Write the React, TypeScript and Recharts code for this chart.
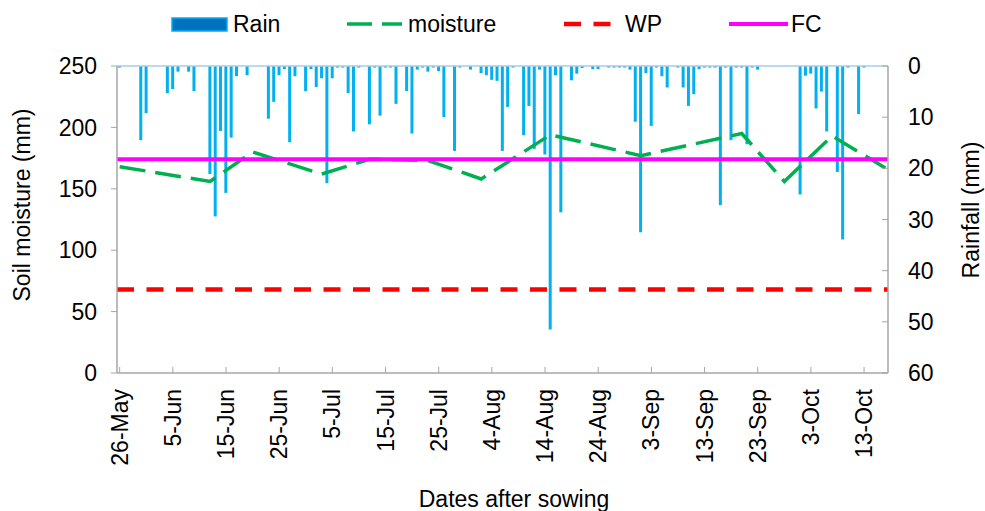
import React from 'react';
import { ComposedChart, Bar, Line, XAxis, YAxis, ReferenceLine, Legend, Label } from 'recharts';

const FONT = '"Liberation Sans", Arial, sans-serif';
const AXIS_GREY = '#a6a6a6';
const RAIN_COLOR = '#00B0F0';
const MOISTURE_COLOR = '#00B050';
const WP_COLOR = '#FF0000';
const FC_COLOR = '#FF00FF';

const MONTHS = ['Jan', 'Feb', 'Mar', 'Apr', 'May', 'Jun', 'Jul', 'Aug', 'Sep', 'Oct', 'Nov', 'Dec'];

// one category per day, 26-May .. 17-Oct
const dates: string[] = Array.from({ length: 145 }, (_, i) => {
  const d = new Date(2013, 4, 26 + i);
  return `${d.getDate()}-${MONTHS[d.getMonth()]}`;
});

// daily rainfall (mm)
const rain = [
  0.3, 0, 0, 0, 14.5, 9.2, 0, 0, 0, 5.3,
  4.5, 1.1, 0, 1.1, 4.9, 0, 0, 21.1, 29.4, 12.7,
  24.8, 14, 2, 0, 1.8, 0, 0, 0, 10.3, 7,
  1.8, 0.6, 14.9, 2, 0, 4.9, 0.6, 4.1, 2.4, 22.9,
  2.4, 0.3, 0.3, 5.3, 12.8, 0.3, 0, 11.4, 0.3, 9.7,
  0.3, 0.3, 7.4, 0, 4.9, 13.2, 0.7, 0.3, 1.1, 0.3,
  1, 10, 0, 16.6, 0.3, 0, 0.7, 0, 1.4, 1.8,
  2.7, 2.9, 16.6, 8, 0.3, 0, 13.5, 7.8, 16.2, 0.7,
  17.3, 51.5, 1.8, 28.6, 0, 2.8, 1.5, 0.4, 0, 0.6,
  0.6, 0, 0.3, 0.3, 0.3, 0.3, 0.7, 10.9, 32.5, 1.4,
  11.7, 0.3, 2, 4.2, 0, 0.3, 4.2, 7.8, 5.5, 0.6,
  0.3, 0.3, 0.3, 27.2, 0.3, 14.5, 0.3, 0.3, 15.3, 0.3,
  0.7, 0, 0, 0, 0, 0, 0, 0, 25.1, 1.9,
  1.5, 8.3, 5, 12.8, 0, 20.7, 33.9, 0.3, 0, 9.4,
  0.3, 0, 0, 0, 0,
];

// soil moisture measurements (day index -> mm)
const moistureDays = [0, 17, 25, 38, 47, 58, 68, 81, 98, 117, 125, 134, 144];
const moistureValues = [168, 156, 180, 162, 174, 173, 158, 194, 177, 195, 156, 193, 167];

const WP = 68;
const FC = 174;

const moistureTicks = [0, 50, 100, 150, 200, 250];
const rainTicks = [0, 10, 20, 30, 40, 50, 60];

const data = dates.map((date, i) => {
  const k = moistureDays.indexOf(i);
  return { date, rain: rain[i], moisture: k >= 0 ? moistureValues[k] : null };
});

const DateTick = ({ x, y, payload }: any) => (
  <text
    x={x}
    y={y}
    transform={`rotate(-90 ${x} ${y})`}
    textAnchor="end"
    dominantBaseline="central"
    fill="#000"
    fontSize={23}
    fontFamily={FONT}
  >
    {payload.value}
  </text>
);

const titleProps = { fill: '#000', fontSize: 23, fontFamily: FONT, textAnchor: 'middle' as const, dominantBaseline: 'central' as const };

const renderLegend = () => (
  <svg width={985} height={50} style={{ fontFamily: FONT }}>
    <rect x={172} y={18} width={55} height={13} fill="#0070C0" stroke={RAIN_COLOR} strokeWidth={1.5} />
    <text x={233} y={24} fontSize={23} dominantBaseline="central" fill="#000">Rain</text>
    <line x1={347} x2={402} y1={24} y2={24} stroke={MOISTURE_COLOR} strokeWidth={3.5} strokeDasharray="25 10" />
    <text x={408} y={24} fontSize={23} dominantBaseline="central" fill="#000">moisture</text>
    <line x1={564} x2={611} y1={24} y2={24} stroke={WP_COLOR} strokeWidth={4.5} strokeDasharray="17 12.5" />
    <text x={625} y={24} fontSize={23} dominantBaseline="central" fill="#000">WP</text>
    <line x1={729} x2={788} y1={24} y2={24} stroke={FC_COLOR} strokeWidth={4} />
    <text x={791} y={24} fontSize={23} dominantBaseline="central" fill="#000">FC</text>
  </svg>
);

export default function App() {
  return (
    <div style={{ position: 'absolute', left: 0, top: 0, background: '#fff' }}>
      <ComposedChart width={985} height={511} data={data} margin={{ top: 66, right: 0, bottom: 0, left: 0 }}>
        <XAxis
          dataKey="date"
          interval={9}
          height={138}
          tick={<DateTick />}
          tickSize={-6}
          tickMargin={22}
          axisLine={{ stroke: AXIS_GREY, strokeWidth: 1.5 }}
          tickLine={{ stroke: AXIS_GREY }}
        >
          <Label content={() => <text x={514} y={499} {...titleProps}>Dates after sowing</text>} />
        </XAxis>
        <YAxis
          yAxisId="left"
          width={117}
          domain={[0, 250]}
          ticks={moistureTicks}
          tickSize={6}
          tickMargin={14}
          tick={{ fill: '#000', fontSize: 23, fontFamily: FONT }}
          axisLine={{ stroke: AXIS_GREY, strokeWidth: 1.5 }}
          tickLine={{ stroke: AXIS_GREY }}
        >
          <Label content={() => <text x={22} y={205} transform="rotate(-90 22 205)" {...titleProps}>Soil moisture (mm)</text>} />
        </YAxis>
        <YAxis
          yAxisId="right"
          orientation="right"
          reversed
          width={97}
          domain={[0, 60]}
          ticks={rainTicks}
          tickSize={-6}
          tickMargin={26}
          tick={{ fill: '#000', fontSize: 23, fontFamily: FONT, textAnchor: 'start' }}
          axisLine={{ stroke: AXIS_GREY, strokeWidth: 1.5 }}
          tickLine={{ stroke: AXIS_GREY }}
        >
          <Label content={() => <text x={971} y={210} transform="rotate(-90 971 210)" {...titleProps}>Rainfall (mm)</text>} />
        </YAxis>
        <Legend verticalAlign="middle" align="center" content={renderLegend} wrapperStyle={{ top: 0, left: 0, width: 985, height: 50 }} />
        <ReferenceLine yAxisId="left" y={WP} stroke={WP_COLOR} strokeWidth={4.5} strokeDasharray="17 12.5" />
        <Line
          yAxisId="left"
          dataKey="moisture"
          type="linear"
          stroke={MOISTURE_COLOR}
          strokeWidth={3.5}
          strokeDasharray="26 10"
          dot={false}
          connectNulls
          isAnimationActive={false}
        />
        <Bar yAxisId="right" dataKey="rain" fill={RAIN_COLOR} barSize={3} isAnimationActive={false} />
        <ReferenceLine yAxisId="right" y={0} stroke="#a9cbe8" strokeWidth={1.5} />
        <ReferenceLine yAxisId="left" y={FC} stroke={FC_COLOR} strokeWidth={4} />
      </ComposedChart>
    </div>
  );
}
